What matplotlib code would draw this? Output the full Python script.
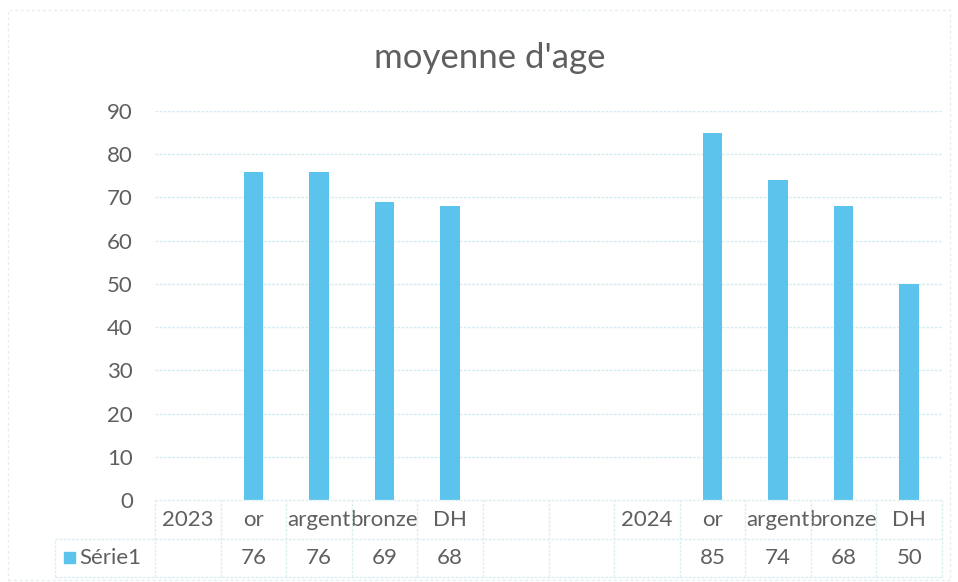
import matplotlib
matplotlib.use("Agg")
import matplotlib.pyplot as plt
import numpy as np
from matplotlib.transforms import blended_transform_factory
from matplotlib.lines import Line2D
from matplotlib.patches import Rectangle

# ── data ─────────────────────────────────────────────────────────────────────
categories = ["2023", "or", "argent", "bronze", "DH", "", "",
              "2024", "or", "argent", "bronze", "DH"]
values = [np.nan, 76, 76, 69, 68, np.nan, np.nan,
          np.nan, 85, 74, 68, 50]
series_name = "Série1"
title = "moyenne d'age"
yticks = list(range(0, 100, 10))

BAR = "#5CC3EC"
TXT = "#5F5F5F"
GRID = "#D5ECF3"
FONT = "Lato"
FS = 16

plt.rcParams["font.family"] = [FONT, "DejaVu Sans"]

fig = plt.figure(figsize=(9.58, 5.82), dpi=100)
fig.patch.set_facecolor("white")

W, H = 958, 582
left, right, bottom, top = 155, 942, 500, 111
ax = fig.add_axes([left / W, 1 - bottom / H, (right - left) / W, (bottom - top) / H])

x = np.arange(len(categories))
ax.bar(x, values, width=0.30, color=BAR, zorder=3)

ax.set_xlim(-0.5, len(categories) - 0.5)
ax.set_ylim(0, 90)
ax.set_yticks(yticks)
ax.set_yticklabels([str(t) for t in yticks], fontsize=FS, color=TXT)
ax.tick_params(axis="y", length=0, pad=16)
ax.tick_params(axis="x", bottom=False, labelbottom=False)
for s in ax.spines.values():
    s.set_visible(False)
for t in yticks[1:]:
    ax.axhline(t, color=GRID, lw=1.0, ls=(0, (2, 1)), zorder=1)

fig.text(490 / W, 1 - 58 / H, title, ha="center", va="center", fontsize=25, color=TXT)

# ── data table under the axis ────────────────────────────────────────────────
tr = blended_transform_factory(ax.transData, fig.transFigure)
y_top, y_mid, y_bot = 1 - 500 / H, 1 - 539 / H, 1 - 577 / H
row1, row2 = 1 - 520 / H, 1 - 558 / H
line_kw = dict(color="#DDEEF3", lw=1.0, ls=(0, (2, 1)), zorder=1)

edges = np.arange(len(categories) + 1) - 0.5
for e in edges:
    fig.add_artist(Line2D([e, e], [y_bot, y_top], transform=tr, **line_kw))
fig.add_artist(Line2D([edges[0], edges[-1]], [y_top, y_top], transform=tr, **line_kw))
for yy in (y_mid, y_bot):
    fig.add_artist(Line2D([55 / W, right / W], [yy, yy], transform=fig.transFigure, **line_kw))
fig.add_artist(Line2D([55 / W, 55 / W], [y_bot, y_mid], transform=fig.transFigure, **line_kw))

for xi, cat, v in zip(x, categories, values):
    ax.text(xi, row1, cat, transform=tr, ha="center", va="center",
            fontsize=FS, color=TXT)
    if not np.isnan(v):
        ax.text(xi, row2, f"{v:.0f}", transform=tr, ha="center", va="center",
                fontsize=FS, color=TXT)

# legend key in table
fig.add_artist(Rectangle((64 / W, 1 - 563 / H), 11 / W, 11 / H,
                         transform=fig.transFigure, color=BAR))
fig.text(79 / W, row2, series_name, ha="left", va="center", fontsize=FS, color=TXT)

# faint chart border
fig.add_artist(Rectangle((8 / W, 1 - 580 / H), 942 / W, 570 / H,
                         transform=fig.transFigure, fill=False,
                         edgecolor="#E3EEF2", lw=1.0, ls=(0, (2, 2))))

fig.savefig("out.png", dpi=100, facecolor="white")
